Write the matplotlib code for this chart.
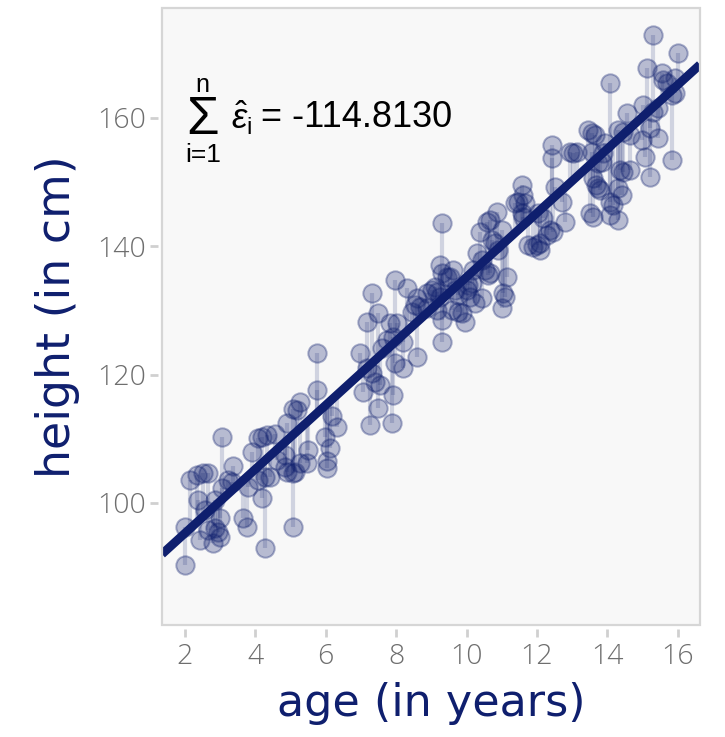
import matplotlib
matplotlib.use("Agg")
import matplotlib.pyplot as plt
from matplotlib.patches import Rectangle
import numpy as np

# age (years) and height (cm) of the sampled children
age = [
    2.00, 2.00, 2.14, 2.34, 2.51, 2.65, 2.37, 2.57, 2.43, 2.80,
    2.65, 2.85, 2.94, 2.99, 2.85, 2.99, 3.05, 3.05, 3.22, 3.34,
    3.36, 3.65, 3.76, 3.79, 3.90, 4.07, 4.07, 4.19, 4.27, 4.19,
    4.33, 4.56, 4.27, 4.41, 4.61, 4.84, 4.90, 5.07, 4.90, 5.07,
    5.07, 5.18, 5.27, 5.47, 5.49, 5.75, 5.75, 5.98, 6.12, 6.03,
    6.03, 6.18, 6.32, 5.27, 5.12, 4.84, 6.97, 7.06, 7.17, 7.17,
    7.31, 7.31, 7.40, 7.54, 7.48, 7.48, 7.60, 7.26, 7.88, 7.91,
    7.74, 7.91, 7.82, 8.02, 7.97, 7.97, 8.19, 8.19, 8.31, 8.59,
    8.53, 8.68, 8.45, 8.59, 8.88, 9.02, 9.16, 9.24, 9.30, 9.30,
    9.30, 9.10, 9.24, 9.30, 9.44, 9.53, 9.61, 9.67, 9.76, 9.58,
    9.76, 9.87, 9.95, 10.01, 10.10, 10.04, 10.15, 10.24, 10.29, 10.44,
    10.18, 10.52, 10.61, 10.66, 10.44, 10.38, 10.58, 10.66, 10.72, 10.81,
    10.89, 10.86, 11.01, 11.03, 11.09, 11.01, 11.15, 11.57, 11.60, 11.46,
    11.38, 11.66, 11.57, 11.60, 11.74, 11.89, 12.09, 12.09, 12.00, 12.03,
    12.17, 12.37, 12.45, 12.28, 12.51, 12.71, 12.80, 12.43, 12.43, 12.94,
    13.14, 13.02, 13.45, 13.56, 13.65, 13.56, 13.73, 13.93, 13.59, 13.68,
    13.73, 13.79, 13.51, 13.59, 14.07, 14.16, 14.07, 14.30, 14.41, 14.30,
    14.07, 14.30, 14.44, 14.36, 14.44, 14.64, 14.56, 14.64, 14.98, 15.01,
    15.07, 15.21, 15.21, 15.30, 15.44, 15.44, 15.13, 15.30, 15.55, 15.58,
    15.69, 15.92, 15.92, 15.83, 16.01, 15.83, 13.87, 13.85, 8.87, 9.16,
]
height = [
    90.3, 96.3, 103.6, 104.4, 104.7, 104.7, 100.5, 98.9, 94.2, 93.8,
    95.8, 96.1, 95.5, 94.7, 100.5, 97.7, 110.3, 102.3, 103.6, 103.3,
    105.8, 97.7, 96.3, 102.5, 107.9, 110.1, 103.6, 100.8, 93.0, 110.3,
    110.6, 110.8, 104.1, 104.1, 106.7, 105.6, 104.8, 104.7, 112.5, 96.3,
    114.6, 114.5, 115.7, 106.2, 108.3, 117.6, 123.4, 110.3, 108.6, 106.5,
    105.5, 113.6, 111.8, 106.2, 104.8, 107.5, 123.4, 117.3, 128.2, 121.0,
    132.7, 120.3, 118.9, 118.4, 114.8, 129.6, 124.2, 112.2, 112.5, 116.8,
    125.4, 125.9, 128.1, 128.1, 134.8, 121.8, 121.0, 125.1, 133.5, 131.9,
    130.9, 130.5, 129.8, 122.8, 132.7, 133.2, 132.9, 137.1, 125.1, 143.6,
    128.5, 133.7, 132.1, 135.8, 135.2, 135.2, 136.3, 133.2, 132.4, 130.1,
    129.8, 129.6, 128.2, 133.2, 132.1, 134.0, 134.3, 131.2, 139.0, 137.9,
    136.3, 136.3, 135.5, 135.8, 131.9, 142.2, 143.8, 144.1, 141.0, 140.5,
    139.4, 145.3, 142.5, 132.7, 132.1, 130.4, 135.2, 149.6, 148.0, 146.9,
    146.8, 146.8, 145.2, 144.6, 140.2, 139.9, 140.5, 139.4, 140.2, 145.2,
    144.4, 142.5, 142.2, 141.8, 149.2, 146.9, 143.8, 155.8, 153.8, 154.7,
    154.7, 154.5, 158.1, 157.7, 157.3, 154.7, 153.0, 156.1, 150.6, 149.6,
    149.1, 148.8, 145.2, 144.6, 146.9, 146.4, 144.9, 144.1, 148.0, 149.1,
    165.5, 158.1, 157.8, 151.9, 151.6, 151.9, 160.8, 157.3, 156.6, 162.0,
    153.9, 150.8, 158.4, 160.9, 161.6, 156.9, 167.8, 172.9, 167.0, 165.9,
    165.5, 166.2, 163.9, 163.6, 170.1, 153.5, 154.5, 153.1, 130.4, 130.1,
]

# fitted line: height = intercept + slope * age
intercept = 85.3
slope = 4.99
resid_sum_label = "-114.8130"

x_ticks = [2, 4, 6, 8, 10, 12, 14, 16]
y_ticks = [100, 120, 140, 160]

navy = "#0f1f6e"
label_font = ["DejaVu Sans"]
tick_font = ["Open Sans", "DejaVu Sans"]

age = np.array(age)
height = np.array(height)
fitted = intercept + slope * age

fig = plt.figure(figsize=(7.25, 7.37), dpi=100)
ax = fig.add_axes([0.2234, 0.152, 0.7421, 0.8371])
ax.set_facecolor("#f8f8f8")

ax.vlines(age, fitted, height, color=navy, alpha=0.17, linewidth=3.0, zorder=2)
ax.scatter(age, height, s=175, facecolor=(0.06, 0.12, 0.43, 0.28),
           edgecolor=(0.06, 0.12, 0.43, 0.35), linewidth=1.4, zorder=3)
ax.axline((0, intercept), slope=slope, color=navy, linewidth=6.3,
          solid_capstyle="butt", zorder=4)

ax.set_xlim(1.35, 16.63)
ax.set_ylim(81.0, 177.1)
ax.set_xticks(x_ticks)
ax.set_yticks(y_ticks)

# frame drawn as a patch so the ticks can sit a little outside it
for side in ["top", "right", "bottom", "left"]:
    ax.spines[side].set_visible(False)
ax.spines["bottom"].set_position(("outward", 3))
ax.spines["left"].set_position(("outward", 3))
ax.add_patch(Rectangle((0, 0), 1, 1, transform=ax.transAxes, fill=False,
                       edgecolor="#d6d6d6", linewidth=1.6, clip_on=False, zorder=5))

ax.tick_params(axis="both", length=6, width=2, color="#d0d0d0",
               labelcolor="#6e6e6e", labelsize=20.5)
ax.tick_params(axis="y", pad=2.5)
ax.tick_params(axis="x", pad=4)
for lab in ax.get_xticklabels() + ax.get_yticklabels():
    lab.set_family(tick_font)
    lab.set_fontweight("light")

ax.set_xlabel("age (in years)", color=navy, fontsize=32, family=label_font, labelpad=8)
ax.set_ylabel("height (in cm)", color=navy, fontsize=33, family=label_font, labelpad=12)

# sum of residuals, built from separate pieces so the sigma can be large
ann = dict(family="Liberation Sans", color="black", zorder=6)
ax.text(2.51, 159.6, "\u03a3", fontsize=38, ha="center", va="center", **ann)
ax.text(2.51, 165.1, "n", fontsize=18, ha="center", va="center", **ann)
ax.text(2.51, 154.2, "i=1", fontsize=19, ha="center", va="center", **ann)
plt.rcParams["mathtext.fontset"] = "custom"
plt.rcParams["mathtext.rm"] = "Liberation Sans"
plt.rcParams["mathtext.it"] = "Liberation Sans:italic"
ax.text(3.30, 159.9, r"$\hat{\varepsilon}_{\mathrm{i}}$", fontsize=25,
        ha="left", va="center", **ann)
ax.text(4.15, 160.1, "= " + resid_sum_label, fontsize=26,
        ha="left", va="center", **ann)

fig.savefig("out.png", dpi=100)
